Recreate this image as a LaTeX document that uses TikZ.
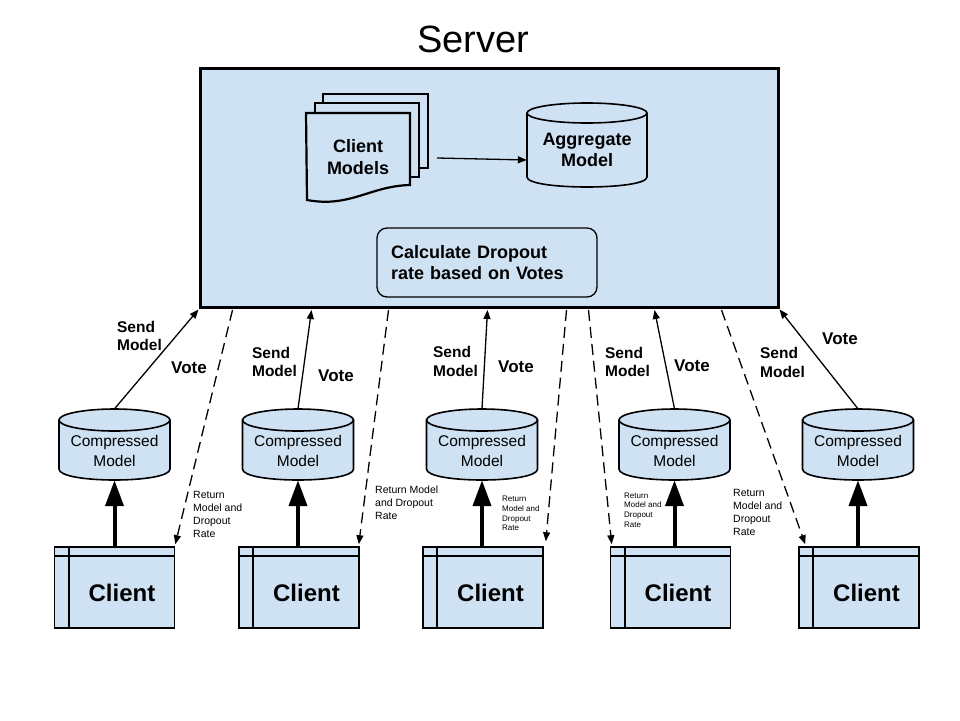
\documentclass[tikz,border=0pt]{standalone}
\usepackage{fontspec}
\setmainfont{Liberation Sans}
\usetikzlibrary{arrows.meta,calc}
\definecolor{lb}{HTML}{CFE2F3}
\tikzset{
  smlbl/.style={font=\bfseries\fontsize{15.5}{18.5}\selectfont, align=left, inner sep=0},
  votelbl/.style={font=\bfseries\fontsize{17}{20}\selectfont, inner sep=0},
  retlbl/.style={font=\fontsize{10.5}{13}\selectfont, align=left, inner sep=0, anchor=west},
  retsmall/.style={font=\fontsize{8}{9.8}\selectfont, align=left, inner sep=0, anchor=west},
  clientbox/.style={draw, line width=1.6pt, fill=lb, minimum width=120pt, minimum height=81pt, inner sep=0},
  clienttxt/.style={font=\bfseries\fontsize{24}{28}\selectfont, inner sep=0},
  cyltxt/.style={font=\fontsize{15.5}{19.5}\selectfont, align=center, inner sep=0},
  sendarr/.style={line width=1.3pt, -{Triangle[length=9pt,width=7pt]}},
  retarr/.style={line width=1.3pt, dash pattern=on 11pt off 6pt, -{Triangle[length=9pt,width=7pt]}},
  thickarr/.style={line width=4pt, -{Triangle[length=26pt,width=18pt]}},
  docline/.style={draw, line width=2.2pt, fill=lb},
}
\newcommand{\dbcyl}[6]{% name, cx, top, w, h, ry
  \draw[line width=1.6pt, fill=lb] (#2-#4/2,#3+#6) -- (#2-#4/2,#3+#5-#6)
    .. controls (#2-#4/2,#3+#5+#6/3) and (#2+#4/2,#3+#5+#6/3) .. (#2+#4/2,#3+#5-#6)
    -- (#2+#4/2,#3+#6);
  \draw[line width=1.6pt, fill=lb] (#2,#3+#6) ellipse [x radius=#4*0.5pt, y radius=#6*1pt];
  \node[minimum width=#4*1pt, minimum height=#5*1pt, inner sep=0] (#1) at (#2,#3+#5/2) {};
}
\begin{document}
\begin{tikzpicture}[x=1pt,y=-1pt]
\useasboundingbox (0,0) rectangle (960,720);
\fill[white] (0,0) rectangle (960,720);

% title and server
\node[font=\fontsize{38}{44}\selectfont, inner sep=0] (title) at (473,39) {Server};
\node[draw, line width=3pt, fill=lb, minimum width=578pt, minimum height=239pt, inner sep=0] (srv) at (489,187.5) {};

% client models document stack
\draw[docline] (323,94) rectangle (428,168);
\draw[docline] (315,103) rectangle (419,177);
\draw[docline] (306,113) -- (410,113) -- (410,185)
   .. controls (370,186) and (350,208) .. (307,200) -- cycle;
\node[font=\bfseries\fontsize{18}{22}\selectfont, align=center, inner sep=0] (docs) at (358,157) {Client\\Models};

% aggregate model
\dbcyl{agg}{587}{103}{120}{84}{10}
\node[font=\bfseries\fontsize{18}{21}\selectfont, align=center, inner sep=0] (aggt) at (587,150) {Aggregate\\Model};
\draw[sendarr] ([xshift=79pt,yshift=-1pt]docs.center) -- ([yshift=-15pt]agg.west);

% dropout box
\node[draw, rounded corners=10pt, line width=1.3pt, fill=lb, minimum width=220pt, minimum height=69pt,
      text width=192pt, align=left, inner sep=0, font=\bfseries\fontsize{18}{21}\selectfont] (calc) at (487,262.5)
      {Calculate Dropout\\rate based on Votes};

% clients and compressed models
\foreach \i/\cx/\kx in {1/114.5/114.5, 2/298/299, 3/482/483, 4/674.5/670.5, 5/858/859}{
  \dbcyl{c\i}{\cx}{409}{111}{71}{11}
  \node[cyltxt] (c\i t) at (\cx,451) {Compressed\\Model};
  \node[clientbox] (k\i) at (\kx,587.5) {};
  \draw[line width=1.6pt] ([yshift=-10pt]k\i.north west) -- ([yshift=-10pt]k\i.north east);
  \draw[line width=1.6pt] ([xshift=15pt]k\i.north west) -- ([xshift=15pt]k\i.south west);
  \node[clienttxt] (k\i t) at ([xshift=7.5pt,yshift=-5pt]k\i.center) {Client};
  \draw[thickarr] (c\i.south |- k\i.north) -- (c\i.south);
}

% send / vote arrows
\draw[sendarr] (c1.north) -- ([yshift=-1pt]srv.south west);
\draw[sendarr] (c2.north) -- ([xshift=113pt,yshift=-1.5pt]srv.south west);
\draw[sendarr] (c3.north) -- ([xshift=289pt,yshift=-1.5pt]srv.south west);
\draw[sendarr] (c4.north) -- ([xshift=456pt,yshift=-1.5pt]srv.south west);
\draw[sendarr] (c5.north) -- ([yshift=-1pt]srv.south east);

% return arrows
\draw[retarr] ([xshift=34pt,yshift=-1.5pt]srv.south west) -- ([yshift=2pt]k1.north east);
\draw[retarr] ([xshift=190pt,yshift=-1.5pt]srv.south west) -- ([xshift=-1pt,yshift=2pt]k2.north east);
\draw[retarr] ([xshift=368pt,yshift=-1.5pt]srv.south west) -- ([xshift=2pt,yshift=5pt]k3.north east);
\draw[retarr] ([xshift=390pt,yshift=-1.5pt]srv.south west) -- ([xshift=2pt,yshift=2pt]k4.north west);
\draw[retarr] ([xshift=523pt,yshift=-1.5pt]srv.south west) -- ([xshift=7pt,yshift=2pt]k5.north west);

% labels
\node[smlbl] (s1) at (139.5,336) {Send\\Model};
\node[smlbl] (s2) at (274.5,362) {Send\\Model};
\node[smlbl] (s3) at (455.5,361.5) {Send\\Model};
\node[smlbl] (s4) at (627.5,362) {Send\\Model};
\node[smlbl] (s5) at (782.5,362.5) {Send\\Model};
\node[votelbl] (v1) at (189,368) {Vote};
\node[votelbl] (v2) at (336,376) {Vote};
\node[votelbl] (v3) at (516,367) {Vote};
\node[votelbl] (v4) at (692,366) {Vote};
\node[votelbl] (v5) at (840,339) {Vote};
\node[retlbl] (r1) at (193,514.5) {Return\\Model and\\Dropout\\Rate};
\node[retlbl] (r2) at (375,503) {Return Model\\and Dropout\\Rate};
\node[retsmall] (r3) at (502,513.5) {Return\\Model and\\Dropout\\Rate};
\node[retsmall] (r4) at (624,510) {Return\\Model and\\Dropout\\Rate};
\node[retlbl] (r5) at (733,512.5) {Return\\Model and\\Dropout\\Rate};
\end{tikzpicture}
\end{document}
